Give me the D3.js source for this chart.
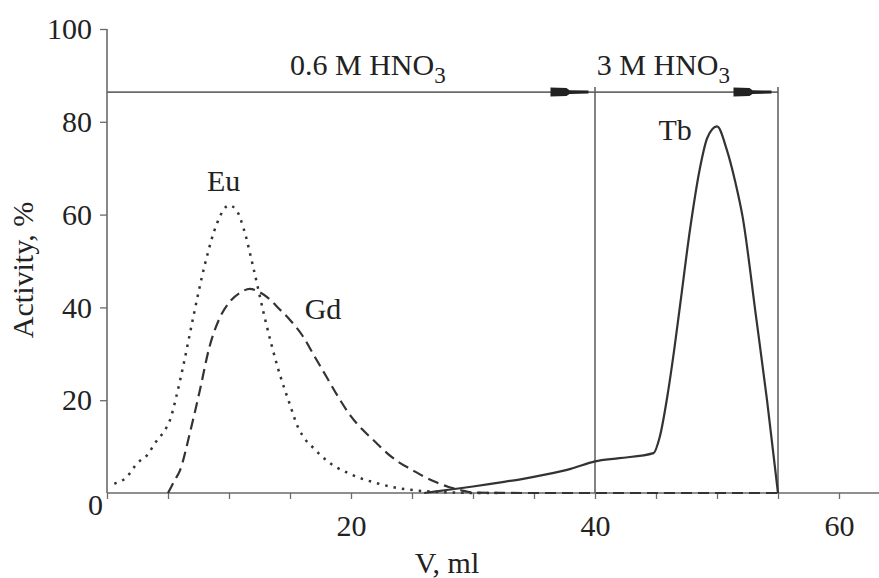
<!DOCTYPE html>
<html>
<head>
<meta charset="utf-8">
<script src="https://cdn.jsdelivr.net/npm/d3@7"></script>
<style>
  html, body { margin: 0; padding: 0; background: #fff; }
  svg { display: block; }
  text { font-family: "Liberation Serif", "Times New Roman", serif; fill: #222; }
</style>
</head>
<body>
<svg id="chart" width="879" height="578"></svg>
<script>
// ---- data ----
const euV   = [0.6, 1.6, 2.5, 3.3, 4, 4.6, 5.2, 5.7, 6.3, 7, 8, 9, 10, 10.6, 11.2, 12, 13, 14, 15, 15.6, 16, 17, 18, 20, 22, 24, 26, 28, 30, 32];
const euAct = [2, 3.4, 6.5, 8.2, 11, 13, 16, 21, 28, 37, 49, 58, 62, 61, 57, 48.5, 37, 27, 19, 14.5, 12.5, 9.5, 7, 4, 2.2, 1, 0.4, 0.15, 0, 0];

const gdV   = [5, 5.5, 6, 6.8, 7.6, 8.4, 9.2, 10, 11, 11.7, 12.5, 13.4, 14, 15, 16, 17, 18, 19, 20, 21, 22, 23, 24, 25, 26, 27, 28, 29, 30, 35, 40, 45, 50, 55];
const gdAct = [0, 2.5, 5, 13, 22, 31.5, 37.5, 41, 43.3, 44, 43.3, 41.6, 40, 37.3, 34, 29.5, 25, 20.5, 16.5, 13.5, 11, 8.5, 6.5, 5, 3.5, 2.3, 1.3, 0.6, 0.1, 0, 0, 0, 0, 0];

const tbV   = [26, 28, 30, 32, 34, 36, 38, 40, 42, 44.8, 45.3, 46, 46.5, 47, 47.8, 48.6, 49.2, 50, 50.8, 51.5, 52.1, 53.2, 54.1, 55];
const tbAct = [0, 0.7, 1.4, 2.2, 3, 4, 5.2, 6.8, 7.5, 8.6, 12, 22, 31, 41, 57, 70, 76.5, 79, 74, 67, 59.5, 38, 20, 0];

const xTicks = [0, 5, 10, 15, 20, 25, 30, 35, 40, 45, 50, 55, 60];
const xTickLabels = ["", "", "", "", "20", "", "", "", "40", "", "", "", "60"];
const yTicks = [0, 20, 40, 60, 80, 100];
const yTickLabels = ["0", "20", "40", "60", "80", "100"];

const eluentBounds = [0, 40, 55];
const eluentLabels = ["0.6 M HNO", "3 M HNO"];
const eluentLabelV = [15, 40.15];
const eluentLevel = 86.4;

const curveLabels = ["Eu", "Gd", "Tb"];
const curveLabelV = [8.2, 16.2, 45.2];
const curveLabelAct = [65, 37.5, 76];

// ---- drawing ----
const svg = d3.select("#chart");
const x = d3.scaleLinear().domain([0, 60]).range([107, 839]);
const y = d3.scaleLinear().domain([0, 100]).range([493, 29]);
const axisColor = "#6a6a6a";
const fs = 30;

// x axis
const xAxis = svg.append("g").attr("transform", `translate(0,${y(0)})`)
  .call(d3.axisBottom(x).tickValues(xTicks).tickSize(6).tickFormat((d, i) => xTickLabels[i]));
xAxis.select(".domain").remove();
xAxis.selectAll(".tick line").attr("stroke", axisColor).attr("stroke-width", 1.3);
xAxis.selectAll(".tick text").attr("font-size", fs).attr("font-family", "Liberation Serif")
  .attr("fill", "#222").attr("y", 43).attr("dy", 0);
svg.append("line").attr("x1", x(0)).attr("x2", x(63.5)).attr("y1", y(0)).attr("y2", y(0))
  .attr("stroke", axisColor).attr("stroke-width", 1.6);

// y axis
const yAxis = svg.append("g").attr("transform", `translate(${x(0)},0)`)
  .call(d3.axisLeft(y).tickValues(yTicks).tickSize(7).tickPadding(8).tickFormat((d, i) => yTickLabels[i]));
yAxis.select(".domain").attr("stroke", axisColor).attr("stroke-width", 1.6).attr("d", `M0,${y(100)}V${y(0)}`);
yAxis.selectAll(".tick line").attr("stroke", axisColor).attr("stroke-width", 1.3);
yAxis.selectAll(".tick text").attr("font-size", fs).attr("font-family", "Liberation Serif").attr("fill", "#222");
yAxis.selectAll(".tick").filter(d => d === 0).select("text").attr("x", -4).attr("dy", "0.7em").attr("y", 0);
yAxis.selectAll(".tick").filter(d => d === 0).select("line").remove();

// axis titles
svg.append("text").attr("x", 447).attr("y", 573).attr("text-anchor", "middle")
  .attr("font-size", fs).text("V, ml");
svg.append("text").attr("transform", "translate(33,270) rotate(-90)").attr("text-anchor", "middle")
  .attr("font-size", fs).text("Activity, %");

// eluent lines
svg.append("line").attr("x1", x(eluentBounds[0])).attr("x2", x(eluentBounds[2]))
  .attr("y1", y(eluentLevel)).attr("y2", y(eluentLevel))
  .attr("stroke", axisColor).attr("stroke-width", 1.6);
[eluentBounds[1], eluentBounds[2]].forEach(v => {
  svg.append("line").attr("x1", x(v)).attr("x2", x(v)).attr("y1", y(eluentLevel) - 5).attr("y2", y(0))
    .attr("stroke", "#5a5a5a").attr("stroke-width", 1.5);
  const tip = x(v) - 6.5, cy = y(eluentLevel);
  svg.append("path")
    .attr("d", `M${tip - 38},${cy - 4.5} L${tip - 22},${cy - 4} L${tip - 19},${cy - 1.8} L${tip},${cy - 1.5} L${tip},${cy + 1.5} L${tip - 19},${cy + 1.8} L${tip - 22},${cy + 4} L${tip - 38},${cy + 4.5} Z`)
    .attr("fill", "#222");
});
eluentLabels.forEach((lab, i) => {
  const t = svg.append("text").attr("x", x(eluentLabelV[i])).attr("y", y(90)).attr("font-size", fs);
  t.append("tspan").text(lab);
  t.append("tspan").attr("font-size", 23).attr("dy", 8).text("3");
});

// curves
const line = d3.line().x(d => x(d[0])).y(d => y(d[1])).curve(d3.curveMonotoneX);
const zip = (a, b) => a.map((v, i) => [v, b[i]]);
svg.append("path").datum(zip(euV, euAct)).attr("d", line).attr("fill", "none")
  .attr("stroke", "#333").attr("stroke-width", 2.5).attr("stroke-dasharray", "2.5,6");
svg.append("path").datum(zip(gdV, gdAct)).attr("d", line).attr("fill", "none")
  .attr("stroke", "#333").attr("stroke-width", 2.2).attr("stroke-dasharray", "11,6");
svg.append("path").datum(zip(tbV, tbAct)).attr("d", line).attr("fill", "none")
  .attr("stroke", "#333").attr("stroke-width", 2.2);

// curve labels
curveLabels.forEach((lab, i) => {
  svg.append("text").attr("x", x(curveLabelV[i])).attr("y", y(curveLabelAct[i]))
    .attr("font-size", fs).text(lab);
});
</script>
</body>
</html>
